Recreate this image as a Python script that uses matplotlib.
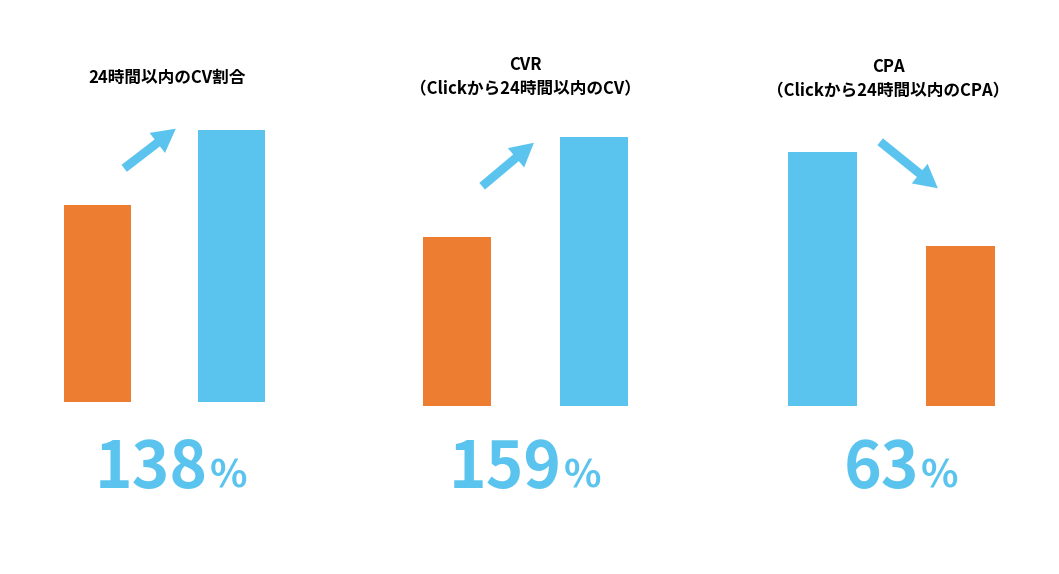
import matplotlib
matplotlib.use("Agg")
import matplotlib.pyplot as plt

plt.rcParams['font.family'] = ['Noto Sans CJK JP', 'DejaVu Sans']

ORANGE = '#ED7D31'
BLUE = '#5BC4EE'

titles = ['24時間以内のCV割合', 'CVR\n（Clickから24時間以内のCV）', 'CPA\n（Clickから24時間以内のCPA）']
values = [[100, 138], [100, 159], [100, 63]]
colors = [[ORANGE, BLUE], [ORANGE, BLUE], [BLUE, ORANGE]]
pct_labels = ['138', '159', '63']

W, H = 1059, 574
fig = plt.figure(figsize=(W / 100, H / 100), dpi=100)

# panel geometry in pixels: left, bottom(from top), width, px per unit
panels = [(30.5, 402, 268, 1.97), (388.5, 406, 274, 1.69), (753, 406, 277, 2.54)]
title_x = [167, 525, 888]
title_y = [78, 77, 79]
arrows = [((122, 170), (178, 127)), ((480, 188), (536, 141)), ((878, 140), (940, 190))]
pct_x = [208, 562, 919]

for i, (l, b, w, s) in enumerate(panels):
    ah = 320
    ax = fig.add_axes([l / W, (H - b) / H, w / W, ah / H])
    ax.bar([0, 1], values[i], width=0.5, color=colors[i])
    ax.set_xlim(-0.5, 1.5)
    ax.set_ylim(0, ah / s)
    ax.axis('off')
    fig.text(title_x[i] / W, 1 - title_y[i] / H, titles[i], ha='center', va='center',
             fontsize=12, fontweight='bold', linespacing=1.5)
    (x0, y0), (x1, y1) = arrows[i]
    fig.add_artist(matplotlib.patches.FancyArrowPatch(
        (x0 / W, 1 - y0 / H), (x1 / W, 1 - y1 / H), transform=fig.transFigure,
        arrowstyle='simple,head_length=1.2,head_width=1.3,tail_width=0.45',
        mutation_scale=14, color=BLUE, lw=0))
    fig.text(pct_x[i] / W, 1 - 488 / H, pct_labels[i], ha='right', va='baseline',
             fontsize=46, fontweight='bold', color=BLUE)
    fig.text(pct_x[i] / W + 0.002, 1 - 488 / H, '%', ha='left', va='baseline',
             fontsize=28, fontweight='bold', color=BLUE)

fig.savefig('out.png', dpi=100)
